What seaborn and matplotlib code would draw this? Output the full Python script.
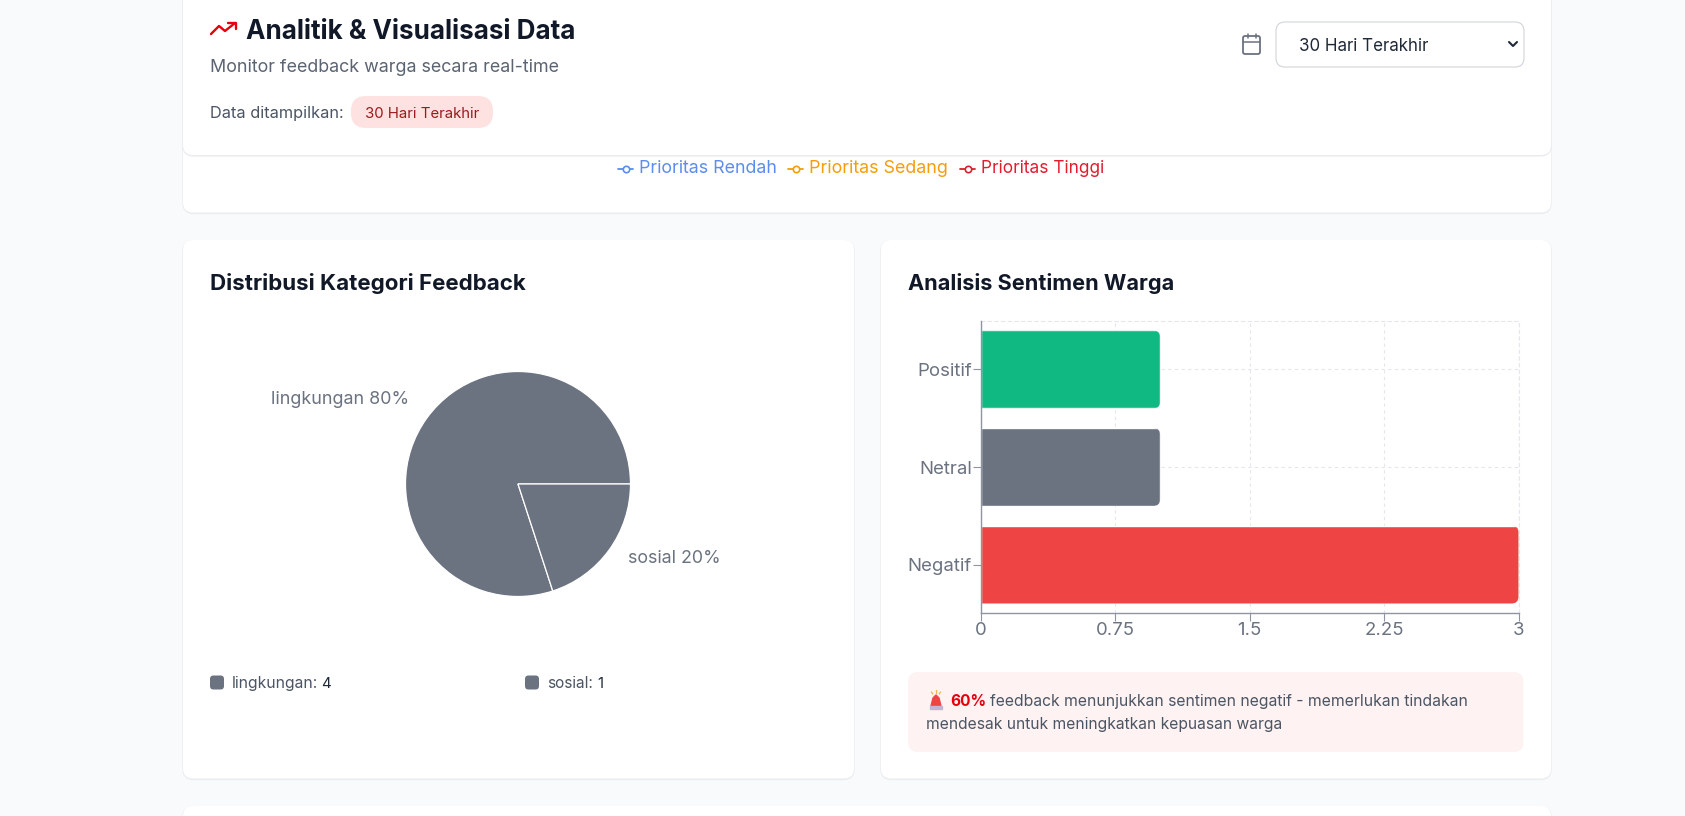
import matplotlib
matplotlib.use("Agg")
import matplotlib.pyplot as plt
from matplotlib.patches import FancyBboxPatch, Polygon
from matplotlib.transforms import IdentityTransform
import pandas as pd
import seaborn as sns

# ---- data ----
category_names = ["lingkungan", "sosial"]
category_counts = [4, 1]
sentiment_names = ["Positif", "Netral", "Negatif"]
sentiment_counts = [1, 1, 3]
sentiment_colors = ["#10b981", "#6b7280", "#ef4444"]
x_ticks = [0, 0.75, 1.5, 2.25, 3]
x_tick_labels = ["0", "0.75", "1.5", "2.25", "3"]
legend_names = ["Prioritas Rendah", "Prioritas Sedang", "Prioritas Tinggi"]
legend_colors = ["#5b8def", "#f59e0b", "#e11d2e"]
PIE_COLOR = "#6b7280"

W, H = 1685, 816
sns.set_theme(style="white")
plt.rcParams["font.family"] = ["Inter", "DejaVu Sans"]
fig = plt.figure(figsize=(W / 100, H / 100), dpi=100, facecolor="#f9fafb")

page = fig.add_axes([0, 0, 1, 1], zorder=0)
page.set_xlim(0, W)
page.set_ylim(H, 0)
page.axis("off")
renderer = fig.canvas.get_renderer()


def box(x0, y0, x1, y1, color, r=10, edge="none", lw=0, z=1):
    p = FancyBboxPatch((x0, y0), x1 - x0, y1 - y0, boxstyle=f"round,pad=0,rounding_size={r}",
                       facecolor=color, edgecolor=edge, linewidth=lw, zorder=z)
    page.add_patch(p)
    return p


def card(x0, y0, x1, y1, z=1.0):
    box(x0 - 0.7, y0, x1 + 0.7, y1 + 1.6, "#eaecef", r=11, z=z)
    box(x0, y0, x1, y1, "white", r=10, z=z + 0.1)


def label(x0, x1, base, s, color, size=15, weight="normal"):
    t = page.text(x0, base, s, color=color, fontsize=size, fontweight=weight, va="baseline", ha="left", zorder=5)
    w = t.get_window_extent(renderer).width
    t.set_fontsize(size * (x1 - x0) / w)
    return t


# cards
card(183, -30, 1551, 212.5, z=1.0)
card(183, -30, 1551, 155, z=1.2)
card(183, 240, 854, 778.5)
card(881, 240, 1551, 778.5)
card(183, 806, 1551, 860)

# header
TREND = "#e7000b"
page.plot([211, 219, 225, 235], [34, 26, 31, 23], color=TREND, lw=1.7, zorder=5, solid_capstyle="round")
page.plot([228, 235.5, 235.5], [22.5, 22.5, 29], color=TREND, lw=1.7, zorder=5)
label(246, 576, 39, "Analitik & Visualisasi Data", "#111827", size=20, weight="bold")
label(210, 560, 72, "Monitor feedback warga secara real-time", "#5b6472")
label(210, 342, 118, "Data ditampilkan:", "#4b5563", size=11)
box(351, 96, 493, 128, "#fee2e2", r=15, z=2)
label(365, 479, 118, "30 Hari Terakhir", "#991b1b", size=11)

# period selector
box(1243, 36, 1260, 54, "white", r=2, edge="#6b7280", lw=1.3, z=3)
page.plot([1243, 1260], [41.5, 41.5], color="#6b7280", lw=1.1, zorder=4)
for cx in (1247.5, 1255.5):
    page.plot([cx, cx], [34, 38], color="#6b7280", lw=1.1, zorder=4)
box(1276, 22, 1524, 67, "white", r=9, edge="#d1d5db", lw=0.8, z=3)
label(1299, 1429, 51, "30 Hari Terakhir", "#1f2937", size=13)
page.plot([1509, 1513, 1517], [42, 46, 42], color="#1f2937", lw=1.5, zorder=5)

# priority legend
for (mx0, tx0, tx1), name, col in zip([(618, 639, 777), (788, 809, 948), (960, 981, 1104)], legend_names, legend_colors):
    page.plot([mx0, mx0 + 15], [168.5, 168.5], color=col, lw=1.3, zorder=5)
    page.plot([mx0 + 7.5], [168.5], marker="o", ms=4.6, mfc="white", mec=col, mew=1.2, zorder=6)
    label(tx0, tx1, 173, name, col, size=13)

# pie card
label(210, 525, 290, "Distribusi Kategori Feedback", "#111827", size=17, weight="bold")
pie_ax = fig.add_axes([(518 - 113) / W, 1 - (484 + 113) / H, 226 / W, 226 / H], zorder=2)
pie_ax.pie(category_counts, colors=[PIE_COLOR] * len(category_counts), startangle=0, counterclock=True,
           radius=112.5 / 113, wedgeprops={"edgecolor": "white", "linewidth": 0.9})
pie_ax.set_xlim(-1, 1)
pie_ax.set_ylim(-1, 1)
total = sum(category_counts)
for (n, v), (x0, x1, base) in zip(zip(category_names, category_counts), [(271, 409, 404), (628, 721, 563)]):
    label(x0, x1, base, f"{n} {round(100 * v / total)}%", "#6b7280", size=14)

for (n, v), (sq, t0, t1, v0, v1) in zip(zip(category_names, category_counts),
                                        [(210, 232, 317, 321, 331), (525, 547, 593, 597, 603)]):
    box(sq, 675.5, sq + 14, 689.5, PIE_COLOR, r=3.5, z=3)
    label(t0, t1, 688, f"{n}:", "#4b5563", size=12)
    page.text(v0, 688, str(v), color="#1f2937", fontsize=10.8, va="baseline", ha="left", zorder=5)

# sentiment card
label(908, 1173, 290, "Analisis Sentimen Warga", "#111827", size=17, weight="bold")
AX_L, AX_R, AX_T, AX_B = 981, 1518.5, 320.7, 613.3
ax = fig.add_axes([AX_L / W, 1 - AX_B / H, (AX_R - AX_L) / W, (AX_B - AX_T) / H], zorder=2)
ax.patch.set_alpha(0)
df = pd.DataFrame({"name": sentiment_names, "count": sentiment_counts})
sns.barplot(data=df, y="name", x="count", hue="name", order=sentiment_names, hue_order=sentiment_names,
            palette=sentiment_colors, width=0.8, legend=False, saturation=1, ax=ax, zorder=3)
ax.set_xlim(0, x_ticks[-1])
ax.set_ylim(len(sentiment_names) - 0.5, -0.5)
ax.set_xticks(x_ticks, x_tick_labels)
ax.set_xlabel("")
ax.set_ylabel("")
GRID = "#e5e7eb"
ax.grid(True, color=GRID, linestyle=(0, (3, 3)), linewidth=0.8, zorder=0)
ax.set_axisbelow(True)
for side in ("top", "right"):
    ax.spines[side].set_visible(True)
    ax.spines[side].set_color(GRID)
    ax.spines[side].set_linewidth(0.8)
    ax.spines[side].set_linestyle((0, (3, 3)))
for side in ("left", "bottom"):
    ax.spines[side].set_visible(True)
    ax.spines[side].set_color("#8f94a0")
    ax.spines[side].set_linewidth(1.0)
    ax.spines[side].set_zorder(6)
ax.tick_params(axis="both", length=5.5, width=0.8, color="#8f94a0", labelcolor="#6b7280", labelsize=13.4, pad=1,
               bottom=True, left=True)
fig.canvas.draw()
for bar in ax.patches:
    e = bar.get_window_extent(renderer)
    if e.width <= 0:
        continue
    clip = FancyBboxPatch((e.x0 - 30, e.y0), e.width + 30, e.height, boxstyle="round,pad=0,rounding_size=7",
                          transform=IdentityTransform())
    bar.set_clip_path(clip)

# callout
box(908, 672, 1523.5, 752, "#fef2f2", r=10, z=2)
page.add_patch(Polygon([(931, 706), (933, 698), (936, 695), (939, 698), (941, 706)], closed=True, color="#ef4444", zorder=5))
page.add_patch(Polygon([(930, 706), (942, 706), (942, 709), (930, 709)], closed=True, color="#c4b5d8", zorder=5))
for a, b, c, d in [(936, 690, 936, 693), (931.5, 692, 932.8, 694), (940.5, 692, 939.2, 694)]:
    page.plot([a, c], [b, d], color="#f5b342", lw=0.9, zorder=5)
label(950, 986, 706, "60%", "#e7000b", size=12, weight="bold")
label(990, 1466, 706, "feedback menunjukkan sentimen negatif - memerlukan tindakan", "#4b5563", size=12)
label(926, 1281, 729, "mendesak untuk meningkatkan kepuasan warga", "#4b5563", size=12)

fig.savefig("out.png", dpi=100, facecolor=fig.get_facecolor())
